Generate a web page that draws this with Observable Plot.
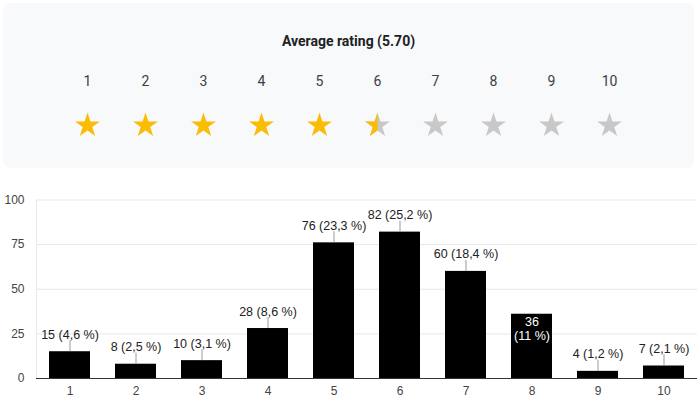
<!DOCTYPE html>
<html><head><meta charset="utf-8">
<script src="https://cdn.jsdelivr.net/npm/d3@7"></script>
<script src="https://cdn.jsdelivr.net/npm/@observablehq/plot@0.6"></script>
<style>
body{margin:0;background:#fff;width:697px;height:399px;overflow:hidden;position:relative}
#panel{position:absolute;left:3px;top:3px;width:691px;height:165px;background:#f8f9fa;border-radius:8px}
#chart{position:absolute;left:0;top:168px}
svg{display:block}
</style></head><body>
<div id="panel"></div><div id="chart"></div>
<script>
const ratings = [1, 2, 3, 4, 5, 6, 7, 8, 9, 10];
const counts = [15, 8, 10, 28, 76, 82, 60, 36, 4, 7];
const yTicks = [0, 25, 50, 75, 100];
const insideRatings = [8];

const total = d3.sum(counts);
const average = d3.sum(ratings, (r, i) => r * counts[i]) / total;
const fmtPct = v => String(+(v * 100).toFixed(1)).replace(".", ",");
const data = ratings.map((r, i) => ({
  rating: r,
  count: counts[i],
  pct: fmtPct(counts[i] / total),
  inside: insideRatings.includes(r)
}));

// star geometry
function starPoints(R) {
  const ri = R * Math.sin(Math.PI / 10) / Math.sin(7 * Math.PI / 10);
  const pts = [];
  for (let k = 0; k < 10; k++) {
    const a = -Math.PI / 2 + k * Math.PI / 5;
    const rr = k % 2 ? ri : R;
    pts.push([rr * Math.cos(a), rr * Math.sin(a)]);
  }
  return pts;
}
const starR = size => Math.sqrt(size / Math.PI) * 1.7;
const fullStar = {draw(ctx, size) {
  const p = starPoints(starR(size));
  ctx.moveTo(p[0][0], p[0][1]);
  for (let k = 1; k < 10; k++) ctx.lineTo(p[k][0], p[k][1]);
  ctx.closePath();
}};
const halfStar = {draw(ctx, size) {
  const p = starPoints(starR(size));
  const idx = [5, 6, 7, 8, 9, 0];
  ctx.moveTo(p[5][0], p[5][1]);
  for (const k of idx.slice(1)) ctx.lineTo(p[k][0], p[k][1]);
  ctx.closePath();
}};
const stars = ratings.map(r => ({
  rating: r,
  state: r <= average ? "full" : (r - average < 1 ? "half" : "empty")
}));

const panelPlot = Plot.plot({
  width: 691, height: 165,
  marginLeft: 83, marginRight: 84, marginTop: 0, marginBottom: 0,
  style: {background: "transparent", fontFamily: "Roboto, sans-serif"},
  x: {type: "point", domain: ratings, padding: 0, axis: null},
  marks: [
    Plot.text([`Average rating (${average.toFixed(2)})`], {frameAnchor: "top", dy: 33, fontSize: 14, fontWeight: "bold", fill: "#202124"}),
    Plot.text(ratings, {x: d => d, text: d => String(d), frameAnchor: "top", dy: 73, fontSize: 14, fill: "#3c4043"}),
    Plot.dot(stars, {x: "rating", dy: 39.5, r: 7.7, symbol: fullStar, stroke: "none",
      fill: d => d.state === "full" ? "#fbbc04" : "#c8c8c8"}),
    Plot.dot(stars.filter(d => d.state === "half"), {x: "rating", dy: 39.5, r: 7.7, symbol: halfStar, stroke: "none", fill: "#fbbc04"})
  ]
});
document.getElementById("panel").append(panelPlot);

const outside = data.filter(d => !d.inside);
const inside = data.filter(d => d.inside);
const chart = Plot.plot({
  width: 697, height: 231,
  marginTop: 31.5, marginBottom: 21, marginLeft: 36, marginRight: 0,
  style: {fontFamily: "Arial, 'Liberation Sans', sans-serif", fontSize: "12px", color: "#444", background: "transparent"},
  x: {type: "band", domain: ratings, paddingInner: 0.38, paddingOuter: 0.19, tickSize: 0, tickPadding: 8, label: null},
  y: {domain: [0, 100], ticks: yTicks, tickSize: 0, tickPadding: 12, label: null},
  marks: [
    Plot.ruleY(yTicks.filter(t => t > 0), {stroke: "#e8e8e8"}),
    Plot.frame({anchor: "left", stroke: "#e8e8e8"}),
    Plot.barY(data, {x: "rating", y: "count", fill: "#000"}),
    Plot.ruleX(outside, {x: "rating", y1: "count", y2: "count", insetBottom: 11, stroke: "#999"}),
    Plot.text(outside, {x: "rating", y: "count", text: d => `${d.count} (${d.pct} %)`, dy: -17, fill: "#222", fontSize: 12.5}),
    Plot.text(inside, {x: "rating", y: "count", text: d => `${d.count}\n(${d.pct} %)`, lineAnchor: "top", dy: 1.5, lineHeight: 1.12, fill: "#fff", fontSize: 12.5}),
    Plot.ruleY([0], {stroke: "#333"})
  ]
});
document.getElementById("chart").append(chart);
</script>
</body></html>
